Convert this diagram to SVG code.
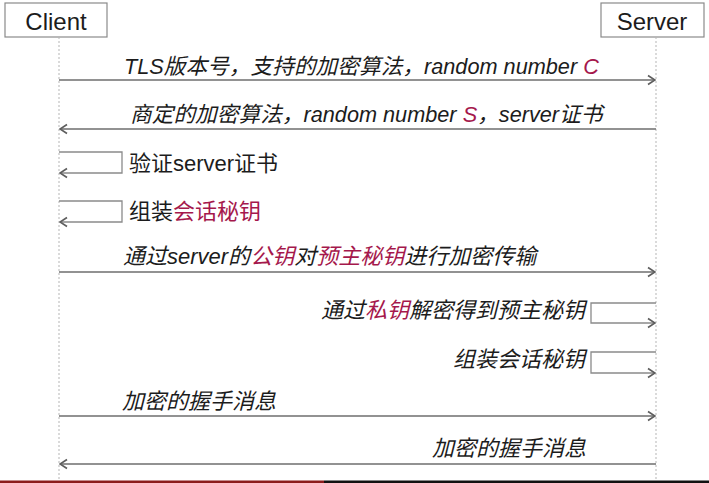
<svg xmlns="http://www.w3.org/2000/svg" width="709" height="483" viewBox="0 0 709 483">
<style>
.box{fill:#fff;stroke:#8a8a8a;stroke-width:1.2}
.life{stroke:#b5b5b5;stroke-width:1;stroke-dasharray:2,2;fill:none}
.msg{stroke:#6e6e6e;stroke-width:1.5;fill:none}
.loop{stroke:#8a8a8a;stroke-width:1.3;fill:none}
.t{font-family:"Liberation Sans","Noto Sans CJK SC",sans-serif;font-size:22px;fill:#1c1c1c}
.s{font-size:21.7px}
.it{font-style:italic}
.hd{font-family:"Liberation Sans","Noto Sans CJK SC",sans-serif;font-size:24px;fill:#1c1c1c;text-anchor:middle}
.r{fill:#a5184c}
</style>
<defs>
<marker id="ah" viewBox="0 0 12 12" refX="11" refY="6" markerWidth="12" markerHeight="12" markerUnits="userSpaceOnUse" orient="auto">
<path d="M4,1.5 L11,6 L4,10.5" fill="none" stroke="#5e5e5e" stroke-width="1.7"/>
</marker>
</defs>
<rect width="709" height="483" fill="#fff"/>
<g id="client">
<rect class="box" x="5" y="3" width="102" height="34"/>
<text class="hd" x="56" y="30">Client</text>
</g>
<g id="server">
<rect class="box" x="601" y="3" width="103" height="34"/>
<text class="hd" x="652" y="30">Server</text>
</g>
<g id="lifelines">
<line class="life" x1="59" y1="37" x2="59" y2="481"/>
<line class="life" x1="656" y1="37" x2="656" y2="481"/>
</g>
<g id="connectors">
<line class="msg" x1="59" y1="80" x2="655" y2="80" marker-end="url(#ah)"/>
<line class="msg" x1="656" y1="129" x2="60" y2="129" marker-end="url(#ah)"/>
<polyline class="loop" points="59,152 122,152 122,173 60,173" marker-end="url(#ah)"/>
<polyline class="loop" points="59,201 122,201 122,222 60,222" marker-end="url(#ah)"/>
<line class="msg" x1="59" y1="272" x2="655" y2="272" marker-end="url(#ah)"/>
<polyline class="loop" points="656,303 591,303 591,323 655,323" marker-end="url(#ah)"/>
<polyline class="loop" points="656,352 591,352 591,373 655,373" marker-end="url(#ah)"/>
<line class="msg" x1="59" y1="416" x2="655" y2="416" marker-end="url(#ah)"/>
<line class="msg" x1="656" y1="464" x2="60" y2="464" marker-end="url(#ah)"/>
</g>
<g id="labels">
<text class="t s it" x="124" y="74">TLS版本号，支持的加密算法，random number <tspan class="r">C</tspan></text>
<text class="t s it" x="130" y="122">商定的加密算法，random number <tspan class="r">S</tspan>，server证书</text>
<text class="t" x="129" y="171">验证server证书</text>
<text class="t" x="129" y="219">组装<tspan class="r">会话秘钥</tspan></text>
<text class="t it" x="123" y="264">通过server的<tspan class="r">公钥</tspan>对<tspan class="r">预主秘钥</tspan>进行加密传输</text>
<text class="t it" x="585" y="318" text-anchor="end">通过<tspan class="r">私钥</tspan>解密得到预主秘钥</text>
<text class="t it" x="585" y="367" text-anchor="end">组装会话秘钥</text>
<text class="t it" x="122" y="409">加密的握手消息</text>
<text class="t it" x="586" y="456" text-anchor="end">加密的握手消息</text>
</g>
<g id="progress">
<rect x="0" y="480.5" width="324" height="2.5" fill="#8c1c1c"/>
<rect x="324" y="480.5" width="385" height="2.5" fill="#111"/>
</g>
</svg>
